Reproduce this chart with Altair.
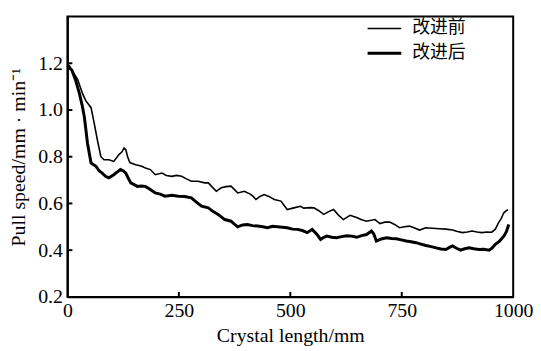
import altair as alt
import pandas as pd

# --- data ---
x_before = [0, 4, 10, 23, 34, 41, 53, 60, 67, 75, 82, 93, 104, 116, 122, 127, 131, 135, 140,
            153, 165, 175, 186, 197, 212, 222, 234, 245, 256, 267, 278, 293, 308, 316, 325,
            334, 345, 356, 367, 382, 397, 410, 416, 423, 432, 441, 452, 464, 479, 493, 508,
            523, 530, 545, 553, 563, 575, 586, 597, 608, 619, 634, 649, 660, 671, 690, 701,
            712, 723, 734, 745, 756, 767, 779, 790, 804, 819, 834, 849, 864, 875, 886, 897,
            908, 919, 930, 941, 952, 960, 967, 973, 979, 984, 988]
y_before = [1.19, 1.19, 1.17, 1.13, 1.07, 1.04, 1.01, 0.944, 0.873, 0.80, 0.787, 0.787, 0.78,
            0.81, 0.82, 0.837, 0.83, 0.80, 0.775, 0.766, 0.76, 0.752, 0.745, 0.723, 0.73, 0.72,
            0.716, 0.72, 0.716, 0.705, 0.695, 0.695, 0.688, 0.688, 0.67, 0.652, 0.667, 0.672,
            0.674, 0.645, 0.652, 0.64, 0.631, 0.617, 0.63, 0.638, 0.63, 0.617, 0.61, 0.574,
            0.581, 0.588, 0.58, 0.582, 0.581, 0.57, 0.553, 0.565, 0.574, 0.55, 0.531, 0.549,
            0.54, 0.53, 0.524, 0.531, 0.514, 0.52, 0.52, 0.51, 0.496, 0.5, 0.503, 0.495, 0.486,
            0.496, 0.494, 0.492, 0.49, 0.486, 0.48, 0.475, 0.478, 0.482, 0.478, 0.475, 0.478,
            0.477, 0.49, 0.517, 0.535, 0.56, 0.568, 0.574]

x_after = [0, 5, 10, 18, 27, 33, 38, 45, 53, 64, 71, 78, 86, 93, 104, 112, 119, 125, 131, 136,
           142, 157, 165, 175, 186, 197, 208, 219, 234, 249, 263, 278, 290, 301, 316, 327, 338,
           353, 367, 375, 382, 393, 404, 415, 427, 438, 449, 460, 471, 482, 493, 505, 516, 527,
           538, 549, 560, 568, 575, 582, 593, 604, 615, 627, 638, 649, 660, 671, 682, 687, 693,
           704, 716, 727, 738, 749, 760, 771, 782, 793, 804, 816, 827, 838, 849, 857, 864, 873,
           882, 891, 901, 912, 923, 934, 946, 953, 960, 970, 979, 985, 990]
y_after = [1.19, 1.18, 1.17, 1.13, 1.07, 1.02, 0.97, 0.858, 0.773, 0.759, 0.74, 0.73, 0.715,
           0.71, 0.723, 0.735, 0.745, 0.74, 0.73, 0.71, 0.688, 0.673, 0.675, 0.673, 0.66, 0.645,
           0.64, 0.631, 0.635, 0.631, 0.63, 0.624, 0.605, 0.588, 0.581, 0.565, 0.553, 0.531,
           0.524, 0.51, 0.50, 0.508, 0.51, 0.505, 0.503, 0.5, 0.496, 0.502, 0.50, 0.498, 0.496,
           0.49, 0.489, 0.484, 0.475, 0.489, 0.467, 0.446, 0.455, 0.46, 0.455, 0.453, 0.458,
           0.462, 0.46, 0.455, 0.462, 0.467, 0.482, 0.47, 0.439, 0.448, 0.453, 0.45, 0.449,
           0.444, 0.439, 0.436, 0.432, 0.426, 0.42, 0.415, 0.41, 0.405, 0.403, 0.412, 0.418,
           0.408, 0.40, 0.406, 0.41, 0.406, 0.403, 0.404, 0.40, 0.41, 0.425, 0.44, 0.46, 0.48,
           0.51]

series_names = ["改进前", "改进后"]
x_ticks = [0, 250, 500, 750, 1000]
y_ticks = [0.2, 0.4, 0.6, 0.8, 1.0, 1.2]

FONT = "Liberation Serif"
W, H = 450, 283

df_before = pd.DataFrame({"x": x_before, "y": y_before})
df_after = pd.DataFrame({"x": x_after, "y": y_after})

xscale = alt.Scale(domain=[0, 1000], nice=False, zero=False)
yscale = alt.Scale(domain=[0.2, 1.4], nice=False, zero=False)

xaxis = alt.Axis(values=x_ticks, format="d", title="Crystal length/mm", labelFlush=False,
                 ticks=False, tickSize=0, labelPadding=4, titlePadding=5, grid=False,
                 labelOverlap=False)
yaxis = alt.Axis(values=y_ticks, format=".1f", title="Pull speed/mm · min⁻¹", ticks=False,
                 tickSize=0, labelPadding=5, titlePadding=9, grid=False, labelOverlap=False)

line_before = alt.Chart(df_before).mark_line(color="black", strokeWidth=1.6).encode(
    x=alt.X("x:Q", scale=xscale, axis=xaxis),
    y=alt.Y("y:Q", scale=yscale, axis=yaxis),
)
line_after = alt.Chart(df_after).mark_line(color="black", strokeWidth=3).encode(
    x=alt.X("x:Q", scale=xscale),
    y=alt.Y("y:Q", scale=yscale),
)

# inward tick marks
xt = pd.DataFrame({"t": x_ticks[1:-1]})
yt = pd.DataFrame({"t": y_ticks[1:]})
xtick_marks = alt.Chart(xt).mark_rule(color="black", strokeWidth=2).encode(
    x=alt.X("t:Q", scale=xscale), y=alt.value(H), y2=alt.value(H - 5))
ytick_marks = alt.Chart(yt).mark_rule(color="black", strokeWidth=2).encode(
    y=alt.Y("t:Q", scale=yscale), x=alt.value(0), x2=alt.value(5))

# legend
leg_layers = []
leg_y = [12, 37]
leg_w = [1.6, 3]
for i, name in enumerate(series_names):
    d = pd.DataFrame({"label": [name]})
    leg_layers.append(alt.Chart(d).mark_rule(color="black", strokeWidth=leg_w[i]).encode(
        x=alt.value(303), x2=alt.value(337), y=alt.value(leg_y[i])))
    leg_layers.append(alt.Chart(d).mark_text(
        align="left", baseline="middle", font="Noto Sans CJK SC", fontSize=18,
        color="black").encode(x=alt.value(348), y=alt.value(leg_y[i]), text="label:N"))

chart = alt.layer(line_before, line_after, xtick_marks, ytick_marks, *leg_layers).properties(
    width=W, height=H,
    padding={"left": 60, "top": 7, "right": 20, "bottom": 53},
    autosize=alt.AutoSizeParams(type="none"),
    background="white",
).configure_view(
    stroke="black", strokeWidth=2
).configure_axis(
    domainColor="black", domainWidth=2,
    labelFont=FONT, labelFontSize=20, labelColor="black",
    titleFont=FONT, titleFontSize=20, titleColor="black", titleFontWeight="normal",
)

chart.save("out.html", embed_options={"renderer": "svg", "actions": False})
